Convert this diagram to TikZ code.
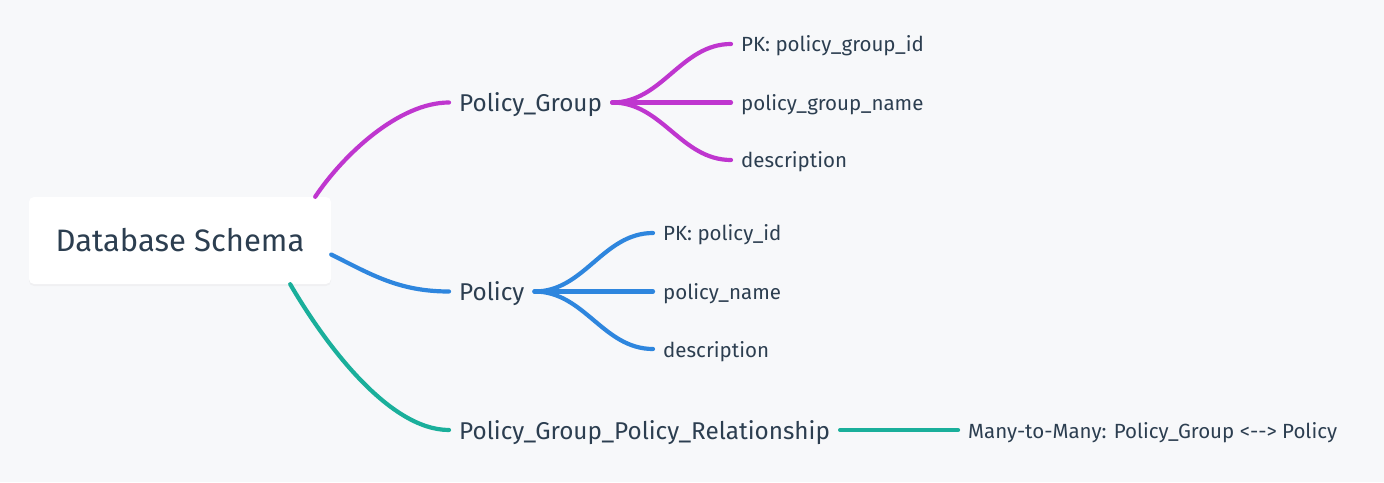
\documentclass[tikz,border=0pt]{standalone}
\usepackage{fontspec}
\setmainfont{Fira Sans}
\usetikzlibrary{shadows}
\definecolor{bgcol}{HTML}{F7F8FA}
\definecolor{txtcol}{HTML}{2C3E50}
\definecolor{pgcol}{HTML}{BF36CF}
\definecolor{pcol}{HTML}{2E86DE}
\definecolor{relcol}{HTML}{1AAF9B}
\begin{document}
\begin{tikzpicture}[x=1pt,y=-1pt,
  rootbox/.style={rectangle,rounded corners=5pt,fill=white,minimum width=302pt,minimum height=87pt,
    text=txtcol,font=\fontsize{31}{36}\selectfont,
    drop shadow={opacity=0.06,shadow xshift=0pt,shadow yshift=-2pt}},
  branch/.style={anchor=west,inner xsep=10pt,inner ysep=0pt,text depth=0pt,text=txtcol,font=\fontsize{24.3}{28}\selectfont},
  leaf/.style={anchor=west,inner xsep=10pt,inner ysep=0pt,text depth=0pt,text=txtcol,font=\fontsize{20.5}{24}\selectfont},
  edge/.style={line width=4.2pt,line cap=round}]
\newcommand\brx{449}
\newcommand\lfx{731}
\newcommand\lfxp{653}
\newcommand\lfxr{958}

\fill[bgcol] (0,0) rectangle (1384,482);

\node[rootbox] (root) at (180,240.5) {Database Schema};

\node[branch] (pg) at (\brx,102.5) {Policy\_Group};
\node[branch] (pol) at (\brx,291.5) {Policy};
\node[branch] (rel) at (\brx,430) {Policy\_Group\_Policy\_Relationship};

% root to branches
\draw[edge,pgcol] ([xshift=-16pt]root.north east) .. controls +(28,-42) and +(-50,0) .. (pg.west);
\draw[edge,pcol] ([yshift=-14pt]root.east) .. controls +(40,20) and +(-50,0) .. (pol.west);
\draw[edge,relcol] ([xshift=-41pt]root.south east) .. controls +(35,60) and +(-60,0) .. (rel.west);

% leaves
\foreach \y/\nm/\txt in {44/pgA/{PK: policy\_group\_id}, 102.5/pgB/{policy\_group\_name}, 160/pgC/{description}}{
\node[leaf] (\nm) at (\lfx,\y) {\txt};
\draw[edge,pgcol] (pg.east) .. controls +(50,0) and +(-50,0) .. (\nm.west);
}

\foreach \y/\nm/\txt in {233/polA/{PK: policy\_id}, 291.5/polB/{policy\_name}, 349/polC/{description}}{
\node[leaf] (\nm) at (\lfxp,\y) {\txt};
\draw[edge,pcol] (pol.east) .. controls +(50,0) and +(-50,0) .. (\nm.west);
}

\node[leaf] (relA) at (\lfxr,430) {Many-to-Many: Policy\_Group <{-}{-}> Policy};
\draw[edge,relcol] (rel.east) -- (relA.west);

\end{tikzpicture}
\end{document}
